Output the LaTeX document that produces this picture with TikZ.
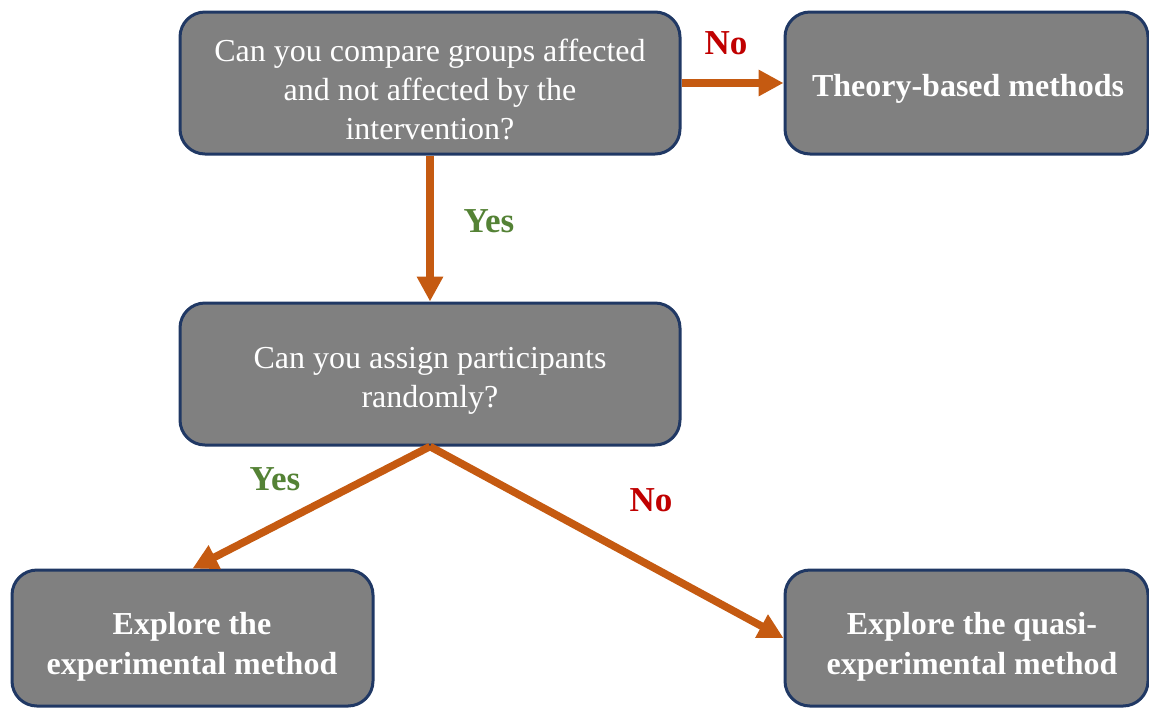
\documentclass[tikz,border=0pt]{standalone}
\usepackage{fontspec}
\setmainfont{Liberation Serif}
\usetikzlibrary{arrows.meta}
\definecolor{boxgray}{HTML}{808080}
\definecolor{boxedge}{HTML}{203864}
\definecolor{flow}{HTML}{C55A11}
\definecolor{yesgreen}{HTML}{548235}
\definecolor{nored}{HTML}{C00000}
\begin{document}
\begin{tikzpicture}[x=0.5pt,y=-0.5pt,
  box/.style={draw=boxedge, line width=1.5pt, fill=boxgray, rounded corners=12.5pt, inner sep=0pt},
  qtext/.style={text=white, align=center, inner sep=0pt,
    font=\fontsize{16pt}{19.5pt}\selectfont},
  otext/.style={text=white, align=center, inner sep=0pt,
    font=\fontsize{16pt}{20pt}\selectfont\bfseries},
  flowarrow/.style={draw=flow, line width=3.8pt,
    -{Triangle[length=12.5pt, width=12.5pt]}},
  answer/.style={font=\fontsize{17.5pt}{20pt}\selectfont\bfseries}
]
\useasboundingbox (0,0) rectangle (1149,708);

% decision boxes
\node[box, minimum width=250pt, minimum height=71pt] (q1) at (430,83) {};
\node[qtext] (q1t) at (430,89)
  {Can you compare groups affected\\and not affected by the\\intervention?};
\node[box, minimum width=250pt, minimum height=71pt] (q2) at (430,374) {};
\node[qtext] (q2t) at (430,381) {Can you assign participants\\randomly?};

% outcome boxes
\node[box, minimum width=181.5pt, minimum height=71pt] (theory) at (966.5,83) {};
\node[otext] (theoryt) at (968,89) {Theory-based methods};
\node[box, minimum width=180.5pt, minimum height=68pt] (exp) at (192.5,638) {};
\node[otext] (expt) at (192,647) {Explore the\\experimental method};
\node[box, minimum width=181.5pt, minimum height=68pt] (quasi) at (966.5,638) {};
\node[otext] (quasit) at (972,647) {Explore the quasi-\\experimental method};

% connectors
\draw[flowarrow] (q1.east) -- (theory.west);
\draw[flowarrow] (q1.south) -- (q2.north);
\draw[flowarrow] (q2.south) -- (exp.north);
\draw[flowarrow] (q2.south) -- (quasi.west);

% answer labels
\node[answer, text=nored] (n1) at (726,43) {No};
\node[answer, text=yesgreen] (y1) at (489,221) {Yes};
\node[answer, text=yesgreen] (y2) at (275,479) {Yes};
\node[answer, text=nored] (n2) at (651,500) {No};
\end{tikzpicture}
\end{document}
